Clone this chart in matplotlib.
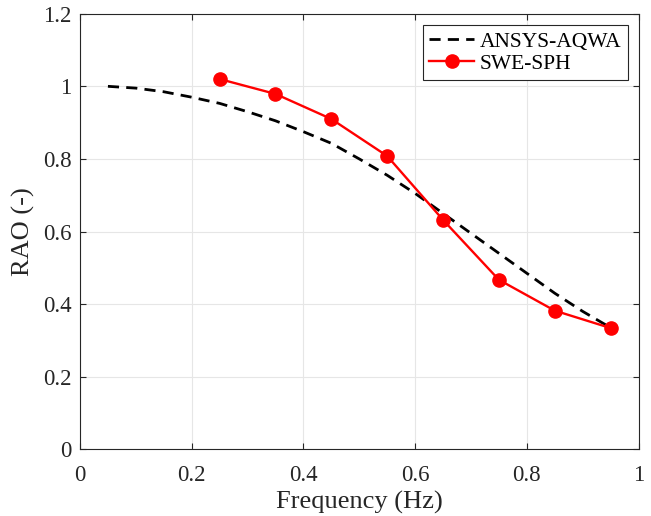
import matplotlib
matplotlib.use("Agg")
import matplotlib.pyplot as plt

# --- data ---
aqwa_freq = [0.05, 0.10, 0.15, 0.20, 0.25, 0.30, 0.35, 0.40, 0.45, 0.50,
             0.55, 0.60, 0.65, 0.70, 0.75, 0.80, 0.85, 0.90, 0.95]
aqwa_rao = [1.000, 0.995, 0.985, 0.970, 0.953, 0.930, 0.905, 0.875, 0.843, 0.800,
            0.755, 0.705, 0.650, 0.595, 0.540, 0.485, 0.430, 0.380, 0.335]

sph_freq = [0.25, 0.35, 0.45, 0.55, 0.65, 0.75, 0.85, 0.95]
sph_rao = [1.020, 0.979, 0.910, 0.808, 0.632, 0.467, 0.382, 0.334]

xticks = [0, 0.2, 0.4, 0.6, 0.8, 1]
xtick_labels = ["0", "0.2", "0.4", "0.6", "0.8", "1"]
yticks = [0, 0.2, 0.4, 0.6, 0.8, 1, 1.2]
ytick_labels = ["0", "0.2", "0.4", "0.6", "0.8", "1", "1.2"]

plt.rcParams['font.family'] = ['Liberation Serif', 'DejaVu Serif']

fig = plt.figure(figsize=(6.51, 5.16), dpi=100)
ax = fig.add_axes([0.1229, 0.1293, 0.8579, 0.8441])

ax.plot(aqwa_freq, aqwa_rao, color='black', linestyle=(0, (4, 2.6)),
        linewidth=2.0, label='ANSYS-AQWA')
ax.plot(sph_freq, sph_rao, color='#ff0000', linewidth=1.7, marker='o',
        markersize=9.5, label='SWE-SPH')

ax.set_xlim(0, 1)
ax.set_ylim(0, 1.2)
ax.set_xticks(xticks)
ax.set_xticklabels(xtick_labels)
ax.set_yticks(yticks)
ax.set_yticklabels(ytick_labels)

ax.grid(True, color='#e6e6e6', linewidth=0.8)
ax.set_axisbelow(True)
for s in ax.spines.values():
    s.set_color('#262626')
    s.set_linewidth(0.8)
ax.tick_params(direction='in', top=True, right=True, length=4,
               width=0.8, color='#262626', labelsize=16.5, labelcolor='#262626')
ax.tick_params(axis='x', pad=11)
ax.tick_params(axis='y', pad=6)

ax.set_xlabel('Frequency (Hz)', fontsize=19, color='#262626', labelpad=4)
ax.set_ylabel('RAO (-)', fontsize=19, color='#262626', labelpad=6)

leg = ax.legend(loc='upper right', fontsize=15.5, fancybox=False,
                framealpha=1, edgecolor='#262626', handlelength=2.1,
                handletextpad=0.25, borderpad=0.3, labelspacing=0.1,
                borderaxespad=0, bbox_to_anchor=(0.981, 0.974))
leg.get_frame().set_linewidth(0.8)

fig.savefig('out.png', dpi=100)
